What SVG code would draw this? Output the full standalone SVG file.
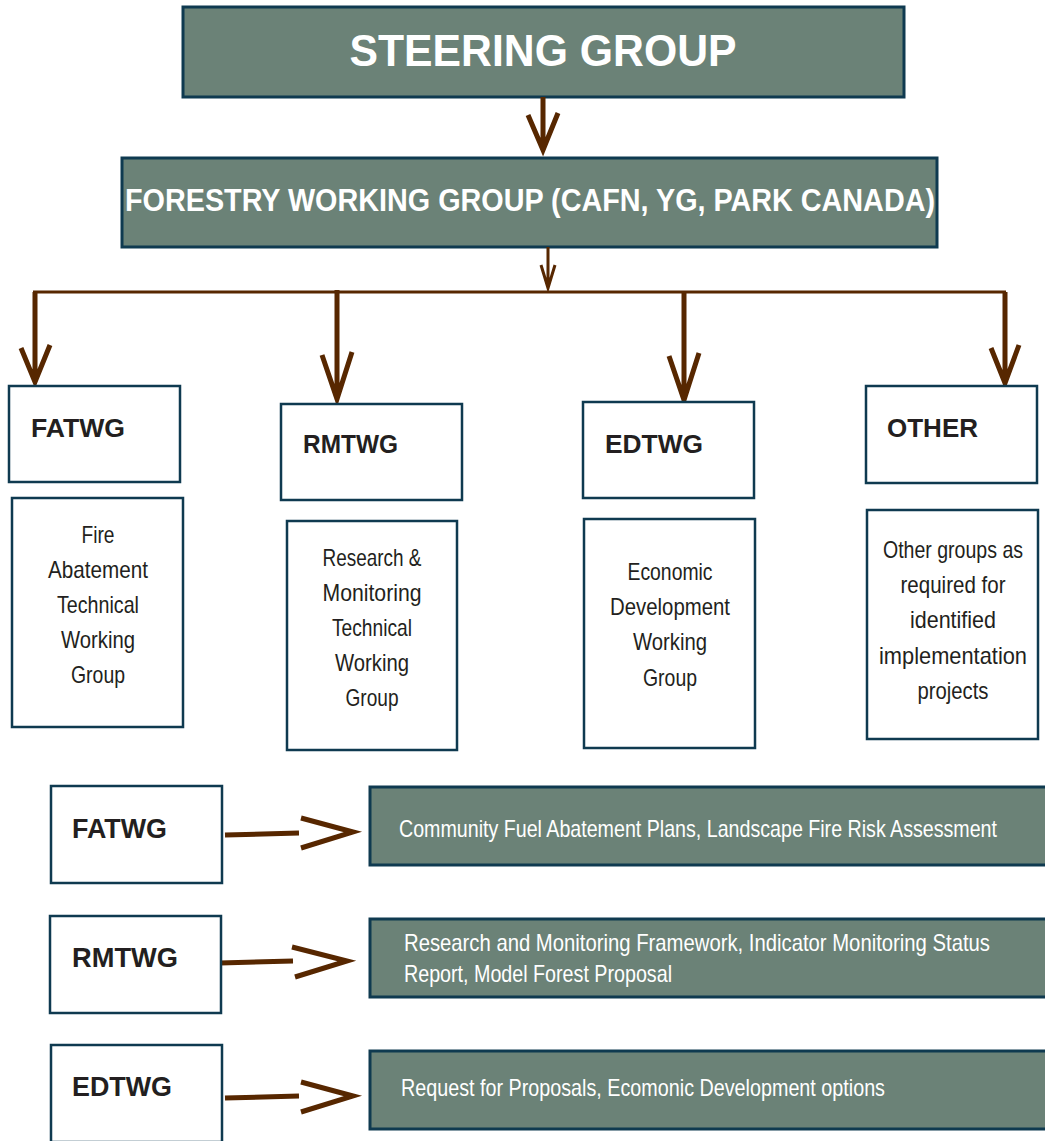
<svg xmlns="http://www.w3.org/2000/svg" width="1045" height="1141" viewBox="0 0 1045 1141">
<style>
.g{fill:#6b8277;stroke:#0f3a50;stroke-width:3}
.w{fill:#fff;stroke:#0f3a50;stroke-width:2.5}
.tw{fill:#fff;font-family:"Liberation Sans",Arial,sans-serif;font-weight:bold}
.hd{fill:#231f20;font-family:"Liberation Sans",Arial,sans-serif;font-weight:bold;font-size:26px}
.hd2{fill:#231f20;font-family:"Liberation Sans",Arial,sans-serif;font-weight:bold;font-size:28px}
.ds{fill:#231f20;font-family:"Liberation Sans",Arial,sans-serif;font-size:24px;text-anchor:middle}
.gt{fill:#fff;font-family:"Liberation Sans",Arial,sans-serif;font-size:24px}
.c{fill:none;stroke:#572700;stroke-width:5;stroke-linecap:butt;stroke-linejoin:miter}
.c2{fill:none;stroke:#572700;stroke-width:3}
</style>
<g id="steering"><rect class="g" x="183" y="7" width="721" height="90"/><text class="tw" x="543" y="66" font-size="44" text-anchor="middle" textLength="387" lengthAdjust="spacingAndGlyphs">STEERING GROUP</text></g>
<g id="forestry"><rect class="g" x="122" y="158" width="815" height="89"/><text class="tw" x="530" y="211" font-size="31" text-anchor="middle" textLength="810" lengthAdjust="spacingAndGlyphs">FORESTRY WORKING GROUP (CAFN, YG, PARK CANADA)</text></g>
<g id="connectors">
<path class="c" d="M543 97V148M528 115L543 150L558 113"/>
<path class="c2" stroke-width="2" d="M548 247V287M541 265L548 288L555 265"/>
<path class="c2" d="M33 292H1006"/>
<path class="c" d="M35 292V380M21 348L35 382L50 345"/>
<path class="c" d="M337 290V397M322 355L337 399L352 352"/>
<path class="c" d="M684 292V398M669 356L684 400L699 353"/>
<path class="c" d="M1005 292V381M991 348L1005 383L1019 345"/>
<path class="c" d="M225 835L299 833M301 818L353 832L301 848"/>
<path class="c" d="M220 963L293 961M292 947L347 961L295 977"/>
<path class="c" d="M225 1098L299 1096M301 1082L353 1096L301 1112"/>
</g>
<g id="fatwg"><rect class="w" x="9" y="386" width="171" height="96"/><text class="hd" x="31" y="437" textLength="94" lengthAdjust="spacingAndGlyphs">FATWG</text></g>
<g id="rmtwg"><rect class="w" x="281" y="404" width="181" height="96"/><text class="hd" x="303" y="453" textLength="95" lengthAdjust="spacingAndGlyphs">RMTWG</text></g>
<g id="edtwg"><rect class="w" x="583" y="402" width="171" height="96"/><text class="hd" x="605" y="453" textLength="98" lengthAdjust="spacingAndGlyphs">EDTWG</text></g>
<g id="other"><rect class="w" x="866" y="386" width="171" height="97"/><text class="hd" x="887" y="437" textLength="91" lengthAdjust="spacingAndGlyphs">OTHER</text></g>
<g id="fatwg-desc"><rect class="w" x="12" y="498" width="171" height="229"/>
<text class="ds" x="98" y="543" textLength="33" lengthAdjust="spacingAndGlyphs">Fire</text>
<text class="ds" x="98" y="578" textLength="100" lengthAdjust="spacingAndGlyphs">Abatement</text>
<text class="ds" x="98" y="613" textLength="82" lengthAdjust="spacingAndGlyphs">Technical</text>
<text class="ds" x="98" y="648" textLength="74" lengthAdjust="spacingAndGlyphs">Working</text>
<text class="ds" x="98" y="683" textLength="54" lengthAdjust="spacingAndGlyphs">Group</text></g>
<g id="rmtwg-desc"><rect class="w" x="287" y="521" width="170" height="229"/>
<text class="ds" x="372" y="566" textLength="99" lengthAdjust="spacingAndGlyphs">Research &amp;</text>
<text class="ds" x="372" y="601" textLength="99" lengthAdjust="spacingAndGlyphs">Monitoring</text>
<text class="ds" x="372" y="636" textLength="80" lengthAdjust="spacingAndGlyphs">Technical</text>
<text class="ds" x="372" y="671" textLength="74" lengthAdjust="spacingAndGlyphs">Working</text>
<text class="ds" x="372" y="706" textLength="53" lengthAdjust="spacingAndGlyphs">Group</text></g>
<g id="edtwg-desc"><rect class="w" x="584" y="519" width="171" height="229"/>
<text class="ds" x="670" y="580" textLength="85" lengthAdjust="spacingAndGlyphs">Economic</text>
<text class="ds" x="670" y="615" textLength="120" lengthAdjust="spacingAndGlyphs">Development</text>
<text class="ds" x="670" y="650" textLength="74" lengthAdjust="spacingAndGlyphs">Working</text>
<text class="ds" x="670" y="686" textLength="54" lengthAdjust="spacingAndGlyphs">Group</text></g>
<g id="other-desc"><rect class="w" x="867" y="510" width="171" height="229"/>
<text class="ds" x="953" y="558" textLength="140" lengthAdjust="spacingAndGlyphs">Other groups as</text>
<text class="ds" x="953" y="593" textLength="105" lengthAdjust="spacingAndGlyphs">required for</text>
<text class="ds" x="953" y="628" textLength="86" lengthAdjust="spacingAndGlyphs">identified</text>
<text class="ds" x="953" y="664" textLength="148" lengthAdjust="spacingAndGlyphs">implementation</text>
<text class="ds" x="953" y="699" textLength="71" lengthAdjust="spacingAndGlyphs">projects</text></g>
<g id="fatwg-row"><rect class="w" x="51" y="786" width="171" height="97"/><text class="hd2" x="72" y="838" textLength="95" lengthAdjust="spacingAndGlyphs">FATWG</text></g>
<g id="rmtwg-row"><rect class="w" x="50" y="916" width="171" height="97"/><text class="hd2" x="72" y="967" textLength="106" lengthAdjust="spacingAndGlyphs">RMTWG</text></g>
<g id="edtwg-row"><rect class="w" x="51" y="1045" width="171" height="97"/><text class="hd2" x="72" y="1096" textLength="100" lengthAdjust="spacingAndGlyphs">EDTWG</text></g>
<g id="fatwg-out"><rect class="g" x="370" y="787" width="680" height="78"/><text class="gt" x="399" y="837" textLength="598" lengthAdjust="spacingAndGlyphs">Community Fuel Abatement Plans, Landscape Fire Risk Assessment</text></g>
<g id="rmtwg-out"><rect class="g" x="370" y="919" width="680" height="78"/><text class="gt" x="404" y="951" textLength="586" lengthAdjust="spacingAndGlyphs">Research and Monitoring Framework, Indicator Monitoring Status</text><text class="gt" x="404" y="982" textLength="268" lengthAdjust="spacingAndGlyphs">Report, Model Forest Proposal</text></g>
<g id="edtwg-out"><rect class="g" x="370" y="1051" width="680" height="78"/><text class="gt" x="401" y="1096" textLength="484" lengthAdjust="spacingAndGlyphs">Request for Proposals, Ecomonic Development options</text></g>
</svg>
